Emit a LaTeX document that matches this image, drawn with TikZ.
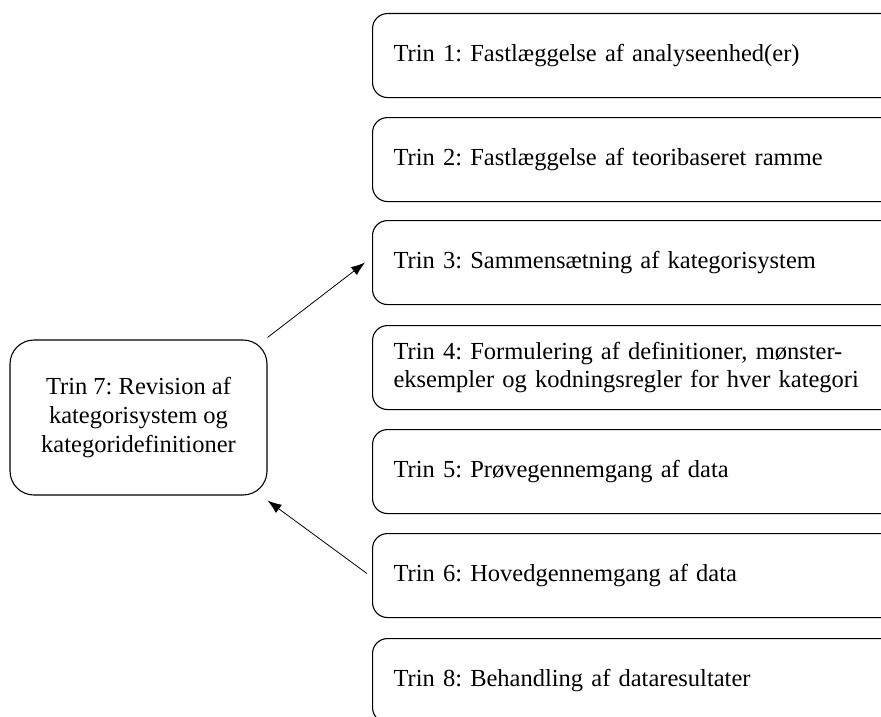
\documentclass[tikz,border=0pt]{standalone}
\usepackage{fontspec}
\setmainfont{Liberation Serif}
\usetikzlibrary{arrows.meta}
\frenchspacing

\tikzset{
  stepbox/.style={draw, line width=1.1pt, rounded corners=15pt,
    anchor=north west, minimum height=84pt, inner xsep=21pt,
    text width=520pt, align=left,
    font=\fontsize{24.5}{28}\selectfont},
  revbox/.style={draw, line width=1.1pt, rounded corners=24pt,
    minimum width=257pt, minimum height=155pt, align=center,
    font=\fontsize{24.5}{29}\selectfont},
  link/.style={line width=0.8pt, -{Latex[length=14pt,width=10pt]}}
}

\begin{document}
\begin{tikzpicture}[x=1pt,y=1pt]
  \useasboundingbox (0,0) rectangle (881,-717);
  \clip (0,0) rectangle (881,-717);

  % steps in the main column
  \node[stepbox] (t1) at (372,-13)  {Trin 1: Fastlæggelse af analyseenhed(er)};
  \node[stepbox] (t2) at (372,-117) {Trin 2: Fastlæggelse af teoribaseret ramme};
  \node[stepbox] (t3) at (372,-220) {Trin 3: Sammensætning af kategorisystem};
  \node[stepbox] (t4) at (372,-325) {Trin 4: Formulering af definitioner, mønster-\\eksempler og kodningsregler for hver kategori};
  \node[stepbox] (t5) at (372,-429) {Trin 5: Prøvegennemgang af data};
  \node[stepbox] (t6) at (372,-533) {Trin 6: Hovedgennemgang af data};
  \node[stepbox] (t8) at (372,-638) {Trin 8: Behandling af dataresultater};

  % revision loop
  \node[revbox] (t7) at (138.5,-417.5) {Trin 7: Revision af\\kategorisystem og\\kategoridefinitioner};

  \draw[link] ([yshift=2pt]t7.north east) -- ([xshift=-7pt]t3.west);
  \draw[link] ([xshift=-5pt,yshift=2pt]t6.west) -- ([yshift=-5pt]t7.south east);
\end{tikzpicture}
\end{document}
